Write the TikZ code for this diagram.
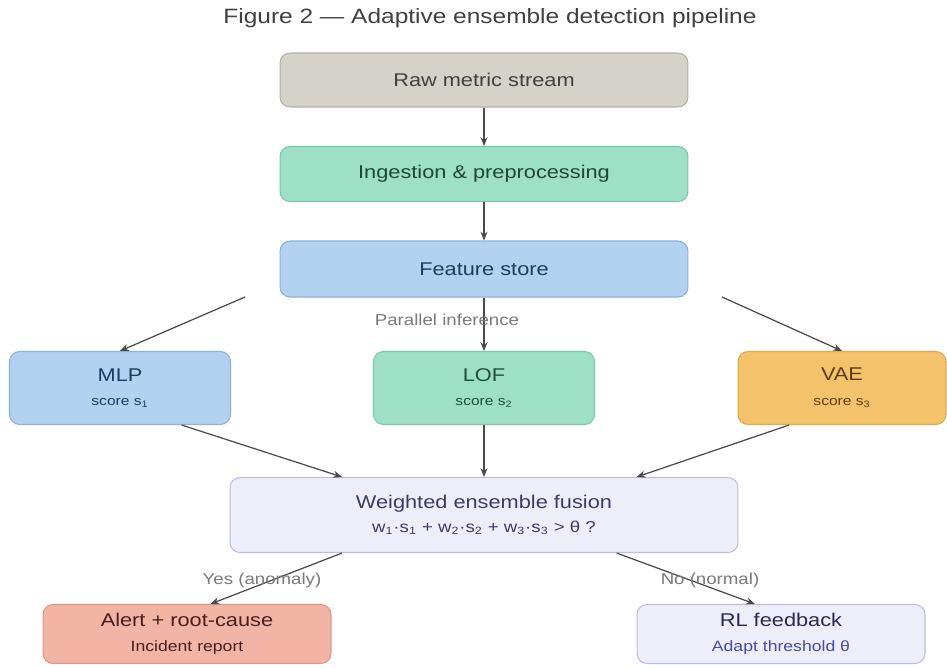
\documentclass[tikz,border=0pt]{standalone}
\usepackage{fontspec}
\setmainfont{Liberation Sans}[FakeStretch=1.18]
\usetikzlibrary{arrows.meta}

\definecolor{rawfill}{HTML}{D5D2CA}
\definecolor{rawline}{HTML}{B3B0A8}
\definecolor{mintfill}{HTML}{9EDFC7}
\definecolor{mintline}{HTML}{7CC4AA}
\definecolor{bluefill}{HTML}{B3D2F1}
\definecolor{blueline}{HTML}{8CB2D8}
\definecolor{orangefill}{HTML}{F5C26C}
\definecolor{orangeline}{HTML}{E0A850}
\definecolor{lavfill}{HTML}{EEEEFB}
\definecolor{lavline}{HTML}{BDBDE0}
\definecolor{redfill}{HTML}{F2B5A5}
\definecolor{redline}{HTML}{D89888}
\definecolor{arrowgray}{HTML}{4A4A4A}
\definecolor{labelgray}{HTML}{7A7A7A}

\newcommand{\subline}[1]{{\fontsize{7.5}{9}\selectfont #1}}

\tikzset{
  box/.style={draw, rounded corners=0.2cm, line width=0.6pt, align=center,
    inner sep=0pt, font=\fontsize{10.5}{14}\selectfont},
  flow/.style={draw=arrowgray, line width=0.7pt, -{Stealth[length=5pt,width=4pt]}},
  edgelabel/.style={text=labelgray, font=\fontsize{9}{11}\selectfont}
}

\begin{document}
\begin{tikzpicture}[x=0.02cm,y=-0.02cm]
    \useasboundingbox[fill=white] (0,0) rectangle (947,667);

    \node[font=\fontsize{11.8}{13}\selectfont, text=black!75] (title) at (490,18)
        {Figure 2 — Adaptive ensemble detection pipeline};

    % main column
    \node[box, fill=rawfill, draw=rawline, text=black!75, minimum width=8.16cm, minimum height=1.08cm]
        (raw) at (484,80) {Raw metric stream};
    \node[box, fill=mintfill, draw=mintline, text={rgb,255:red,30;green,70;blue,55}, minimum width=8.16cm, minimum height=1.1cm]
        (ingest) at (484,174) {Ingestion \& preprocessing};
    \node[box, fill=bluefill, draw=blueline, text={rgb,255:red,30;green,60;blue,95}, minimum width=8.16cm, minimum height=1.12cm]
        (store) at (484,269) {Feature store};

    % detectors
    \node[box, fill=bluefill, draw=blueline, text={rgb,255:red,30;green,60;blue,95}, minimum width=4.42cm, minimum height=1.46cm]
        (mlp) at (120,388) {MLP\\\subline{score s\textsubscript{1}}};
    \node[box, fill=mintfill, draw=mintline, text={rgb,255:red,30;green,80;blue,60}, minimum width=4.42cm, minimum height=1.46cm]
        (lof) at (484,388) {LOF\\\subline{score s\textsubscript{2}}};
    \node[box, fill=orangefill, draw=orangeline, text={rgb,255:red,95;green,60;blue,15}, minimum width=4.16cm, minimum height=1.46cm]
        (vae) at (842,388) {VAE\\\subline{score s\textsubscript{3}}};

    % fusion
    \node[box, fill=lavfill, draw=lavline, text={rgb,255:red,60;green,60;blue,100}, minimum width=10.16cm, minimum height=1.5cm]
        (fusion) at (484,515) {Weighted ensemble fusion\\{\fontsize{9}{10}\selectfont w\textsubscript{1}·s\textsubscript{1} + w\textsubscript{2}·s\textsubscript{2} + w\textsubscript{3}·s\textsubscript{3} > θ ?}};

    % outcomes
    \node[box, fill=redfill, draw=redline, text={rgb,255:red,75;green,30;blue,30}, minimum width=5.76cm, minimum height=1.18cm]
        (alert) at (187,634) {Alert + root-cause\\{\fontsize{8.5}{10}\selectfont Incident report}};
    \node[box, fill=lavfill, draw=lavline, text={rgb,255:red,40;green,40;blue,80}, minimum width=5.76cm, minimum height=1.18cm]
        (rl) at (781,634) {RL feedback\\{\fontsize{8.5}{10}\selectfont\color[HTML]{4A4AA0}Adapt threshold θ}};

    \coordinate (fsL) at (245,297);
    \coordinate (fsR) at (722,297);

    \draw[flow] (raw) -- (ingest);
    \draw[flow] (ingest) -- (store);
    \draw[flow] (fsL) -- (mlp.north);
    \draw[flow] (store) -- (lof);
    \draw[flow] (fsR) -- (vae.north);
    \node[edgelabel] (par) at (447,320) {Parallel inference};

    \draw[flow] (mlp.-31) -- (fusion.165);
    \draw[flow] (lof) -- (fusion);
    \draw[flow] (vae.215) -- (fusion.14);

    \draw[flow] (fusion.195) -- (alert.52);
    \draw[flow] (fusion.-16) -- (rl.131);
    \node[edgelabel] (yes) at (262,580) {Yes (anomaly)};
    \node[edgelabel] (no) at (710,580) {No (normal)};
\end{tikzpicture}
\end{document}
